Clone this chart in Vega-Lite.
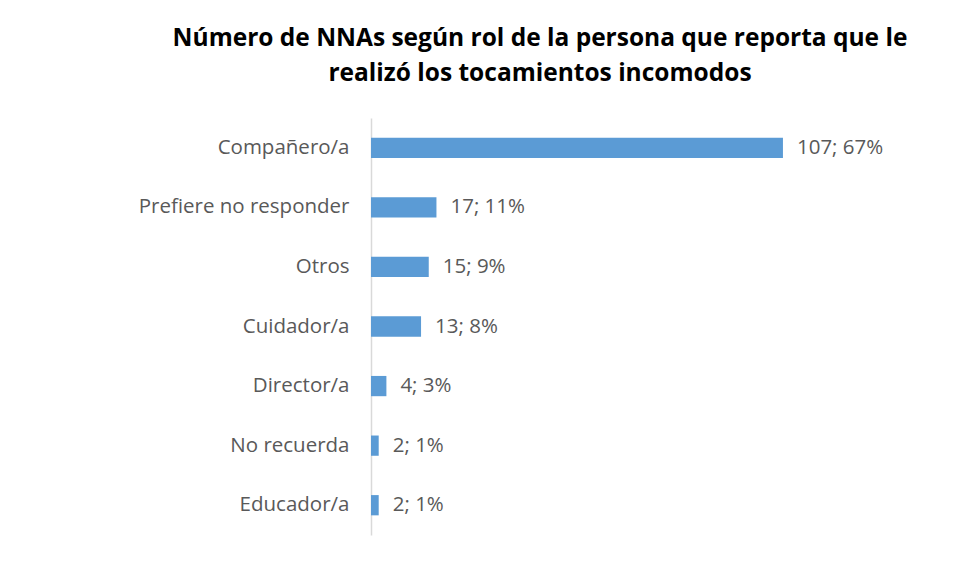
{
  "$schema": "https://vega.github.io/schema/vega-lite/v6.json",
  "autosize": {"type": "none"},
  "padding": {"left": 371, "top": 118, "right": 140, "bottom": 46},
  "width": 462,
  "height": 417,
  "background": "white",
  "title": {
    "text": ["Número de NNAs según rol de la persona que reporta que le", "realizó los tocamientos incomodos"],
    "font": "Open Sans",
    "fontSize": 24.5,
    "fontWeight": "bold",
    "color": "#000000",
    "anchor": "middle",
    "frame": "group",
    "dx": -62,
    "offset": 32,
    "lineHeight": 35
  },
  "data": {
    "values": [
      {"rol": "Compañero/a", "n": 107, "pct": "67%"},
      {"rol": "Prefiere no responder", "n": 17, "pct": "11%"},
      {"rol": "Otros", "n": 15, "pct": "9%"},
      {"rol": "Cuidador/a", "n": 13, "pct": "8%"},
      {"rol": "Director/a", "n": 4, "pct": "3%"},
      {"rol": "No recuerda", "n": 2, "pct": "1%"},
      {"rol": "Educador/a", "n": 2, "pct": "1%"}
    ]
  },
  "encoding": {
    "y": {
      "field": "rol",
      "type": "nominal",
      "sort": null,
      "scale": {"paddingInner": 0.66, "paddingOuter": 0.33},
      "axis": {
        "title": null,
        "ticks": false,
        "labelPadding": 22,
        "labelFont": "Open Sans",
        "labelFontSize": 20.5,
        "labelColor": "#595959",
        "domainColor": "#D9D9D9",
        "domainWidth": 1.5,
        "labelLimit": 300
      }
    },
    "x": {
      "field": "n",
      "type": "quantitative",
      "scale": {"domain": [0, 120], "nice": false},
      "axis": null
    }
  },
  "layer": [
    {"mark": {"type": "bar", "color": "#5B9BD5"}},
    {
      "mark": {"type": "text", "align": "left", "dx": 14, "font": "Open Sans", "fontSize": 20.5, "color": "#595959"},
      "encoding": {"text": {"field": "label"}},
      "transform": [{"calculate": "datum.n + '; ' + datum.pct", "as": "label"}]
    }
  ],
  "config": {"view": {"stroke": null}}
}
